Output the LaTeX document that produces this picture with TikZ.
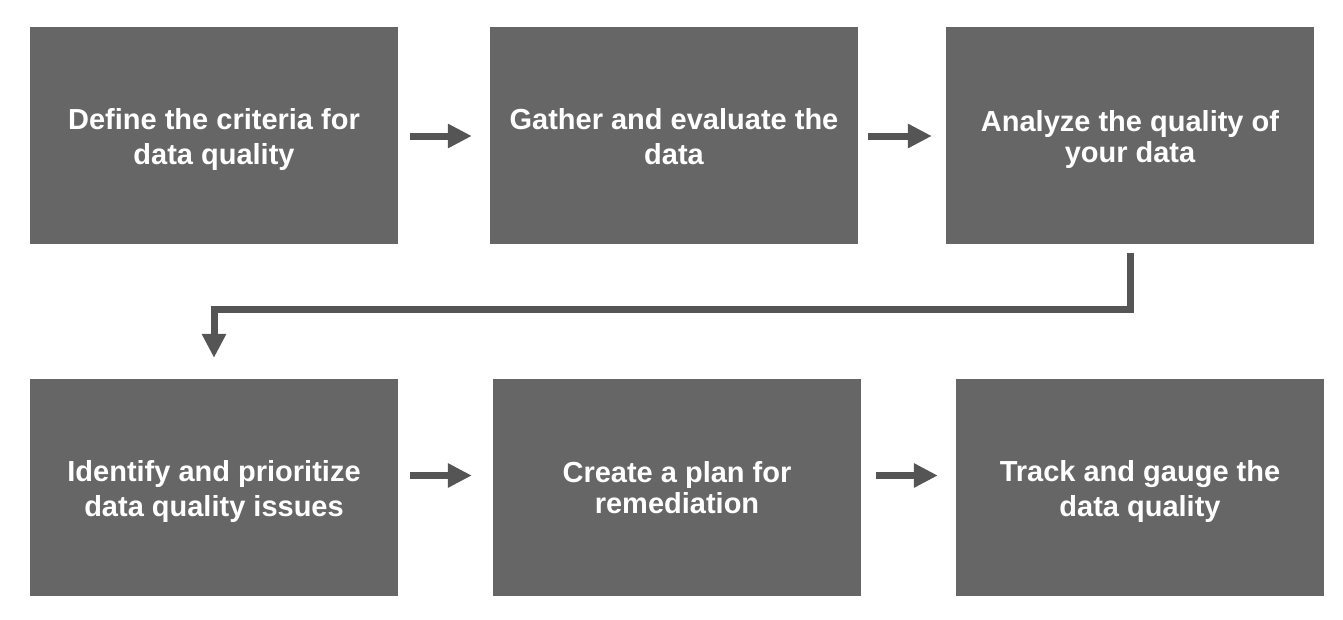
\documentclass[tikz,border=0pt]{standalone}
\usepackage{fontspec}
\setmainfont{Liberation Sans}
\usetikzlibrary{arrows.meta}
\definecolor{boxgray}{HTML}{666666}
\definecolor{arrgray}{HTML}{555555}
\tikzset{
  stepbox/.style={draw=none, fill=boxgray, minimum width=368pt, minimum height=217pt,
    inner sep=0pt},
  boxtext/.style={inner sep=0pt, text=white, align=center,
    font=\fontsize{29pt}{35pt}\selectfont\bfseries},
  tighttext/.style={boxtext, font=\fontsize{29pt}{31pt}\selectfont\bfseries},
  arr/.style={draw=arrgray, line width=7pt, line join=miter,
    -{Triangle[length=24pt, width=23pt]}}
}
\begin{document}
\begin{tikzpicture}[x=1pt, y=-1pt]
\useasboundingbox (0,0) rectangle (1343,619);
\node[stepbox] (b1) at (214,135.5) {};
\node[stepbox] (b2) at (674,135.5) {};
\node[stepbox] (b3) at (1130,135.5) {};
\node[stepbox] (b4) at (214,487.5) {};
\node[stepbox] (b5) at (677,487.5) {};
\node[stepbox] (b6) at (1140,487.5) {};
\node[boxtext] (t1) at ([yshift=-4pt]b1.center) {Define the criteria for\\data quality};
\node[boxtext] (t2) at ([yshift=-1pt]b2.center) {Gather and evaluate the\\data};
\node[tighttext] (t3) at ([yshift=-4pt]b3.center) {Analyze the quality of\\your data};
\node[boxtext] (t4) at ([yshift=-4pt]b4.center) {Identify and prioritize\\data quality issues};
\node[tighttext] (t5) at (b5.center) {Create a plan for\\remediation};
\node[boxtext] (t6) at ([yshift=-4pt]b6.center) {Track and gauge the\\data quality};
\draw[arr] ([xshift=12pt,yshift=-0.5pt]b1.east) -- ([xshift=-18pt,yshift=-0.5pt]b2.west);
\draw[arr] ([xshift=10pt,yshift=-0.5pt]b2.east) -- ([xshift=-14pt,yshift=-0.5pt]b3.west);
\draw[arr] ([xshift=12pt,yshift=12pt]b4.east) -- ([xshift=-21pt,yshift=12pt]b5.west);
\draw[arr] ([xshift=15pt,yshift=12pt]b5.east) -- ([xshift=-18pt,yshift=12pt]b6.west);
\draw[arr] ([yshift=-9pt]b3.south) -- ++(0,56) -| ([yshift=21pt]b4.north);
\end{tikzpicture}
\end{document}
